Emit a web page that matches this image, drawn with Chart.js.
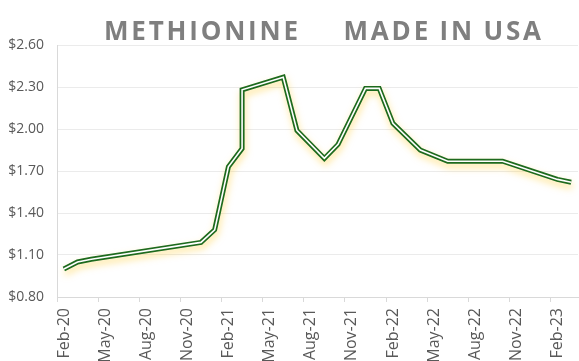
<!DOCTYPE html>
<html>
<head>
<meta charset="utf-8">
<script src="https://cdn.jsdelivr.net/npm/chart.js@4.4.1/dist/chart.umd.min.js"></script>
<style>
  html, body { margin: 0; padding: 0; background: #ffffff; }
  #c { display: block; }
</style>
</head>
<body>
<canvas id="c" width="579" height="361"></canvas>
<script>
// ---- Data ----
const chartTitle = 'METHIONINE     MADE IN USA';
const months = ['Feb-20','Mar-20','Apr-20','Dec-20','Jan-21','Feb-21','Mar-21','Mar-21','Jun-21','Jul-21',
                'Sep-21','Oct-21','Dec-21','Jan-22','Feb-22','Apr-22','Jun-22','Oct-22','Feb-23','Mar-23'];
const prices = [1.00, 1.05, 1.07, 1.19, 1.28, 1.73, 1.86, 2.28, 2.37, 1.99,
                1.79, 1.89, 2.29, 2.29, 2.04, 1.85, 1.77, 1.77, 1.64, 1.62];
const xTickLabels = ['Feb-20','May-20','Aug-20','Nov-20','Feb-21','May-21','Aug-21','Nov-21',
                     'Feb-22','May-22','Aug-22','Nov-22','Feb-23'];
const yTicks = [0.80, 1.10, 1.40, 1.70, 2.00, 2.30, 2.60];

// ---- helpers ----
const MON = {Jan:0,Feb:1,Mar:2,Apr:3,May:4,Jun:5,Jul:6,Aug:7,Sep:8,Oct:9,Nov:10,Dec:11};
function monthIndex(lbl) {
  const [m, y] = lbl.split('-');
  return (2000 + parseInt(y, 10) - 2020) * 12 + MON[m] - 1; // Feb-20 -> 0
}
const points = months.map((m, i) => ({ x: monthIndex(m) + 0.5, y: prices[i] }));
const xTickValues = xTickLabels.map(monthIndex);

const glowPlugin = {
  id: 'glow',
  beforeDatasetDraw(chart, args) {
    if (args.index === 1) {
      const ctx = chart.ctx;
      ctx.save();
      ctx.shadowColor = 'rgba(255, 205, 50, 0.5)';
      ctx.shadowBlur = 7;
      ctx.shadowOffsetX = 1;
      ctx.shadowOffsetY = 4;
    }
  },
  afterDatasetDraw(chart, args) {
    if (args.index === 1) chart.ctx.restore();
  }
};

const titlePlugin = {
  id: 'spacedTitle',
  afterDraw(chart) {
    const ctx = chart.ctx;
    ctx.save();
    ctx.font = 'bold 26px "Open Sans"';
    ctx.fillStyle = '#7f7f7f';
    ctx.textAlign = 'left';
    ctx.textBaseline = 'alphabetic';
    try { ctx.letterSpacing = '2.8px'; ctx.wordSpacing = '-1px'; } catch (e) {}
    ctx.fillText(chartTitle, 104, 39.5);
    ctx.restore();
  }
};

const xFont = { family: '"Open Sans", "Liberation Sans", sans-serif', size: 16 };
const yFont = { family: '"Open Sans", "Liberation Sans", sans-serif', size: 14 };

new Chart(document.getElementById('c'), {
  type: 'line',
  data: {
    datasets: [
      {
        data: points,
        borderColor: '#ffffff',
        borderWidth: 1.6,
        pointRadius: 0,
        tension: 0,
        fill: false,
        borderJoinStyle: 'miter'
      },
      {
        data: points,
        borderColor: '#1d6a1d',
        borderWidth: 5,
        pointRadius: 0,
        tension: 0,
        fill: false,
        borderJoinStyle: 'miter'
      }
    ]
  },
  options: {
    responsive: false,
    animation: false,
    devicePixelRatio: 1,
    layout: { padding: { top: 45, right: 1, left: 0, bottom: 0 } },
    plugins: { legend: { display: false }, tooltip: { enabled: false }, title: { display: false } },
    scales: {
      x: {
        type: 'linear',
        min: 0,
        max: 38,
        afterBuildTicks(scale) { scale.ticks = xTickValues.map(v => ({ value: v })); },
        afterFit(scale) { scale.height = 64; },
        grid: { display: true, drawOnChartArea: false, drawTicks: true, tickLength: 5, color: '#d9d9d9' },
        border: { display: true, color: '#d9d9d9' },
        ticks: {
          autoSkip: false,
          minRotation: 90,
          maxRotation: 90,
          labelOffset: 7,
          padding: 6,
          color: '#595959',
          font: xFont,
          callback(value) {
            const i = xTickValues.indexOf(value);
            return i >= 0 ? xTickLabels[i] : '';
          }
        }
      },
      y: {
        type: 'linear',
        min: 0.8,
        max: 2.6,
        afterBuildTicks(scale) { scale.ticks = yTicks.map(v => ({ value: v })); },
        afterFit(scale) { scale.width = 57; },
        grid: { color: '#ebebeb', drawTicks: false },
        border: { display: true, color: '#d9d9d9' },
        ticks: {
          padding: 13,
          color: '#595959',
          font: yFont,
          callback(value) { return '$' + Number(value).toFixed(2); }
        }
      }
    }
  },
  plugins: [glowPlugin, titlePlugin]
});
</script>
</body>
</html>
